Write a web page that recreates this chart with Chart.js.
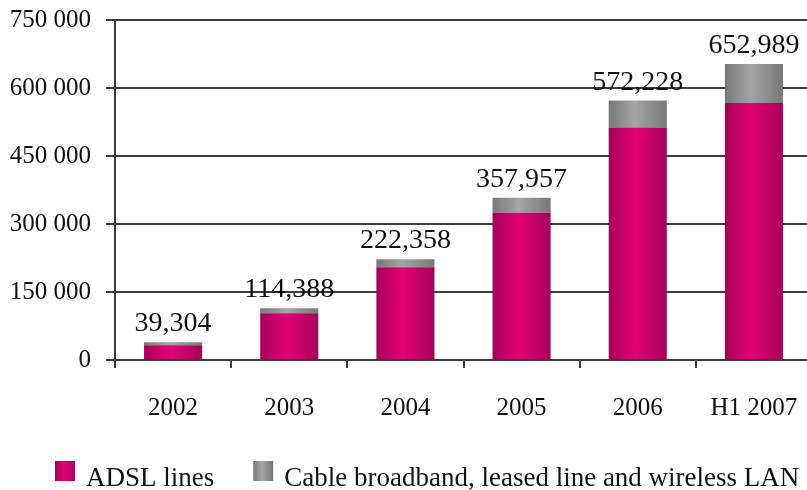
<!DOCTYPE html>
<html>
<head>
<meta charset="utf-8">
<script src="https://cdn.jsdelivr.net/npm/chart.js@4/dist/chart.umd.min.js"></script>
<style>
  html, body { margin: 0; padding: 0; background: #fff; overflow: hidden; }
  #wrap { width: 807px; height: 490px; overflow: hidden; }
</style>
</head>
<body>
<div id="wrap"><canvas id="chart" width="812" height="490"></canvas></div>
<script>
const periods = ["2002", "2003", "2004", "2005", "2006", "H1 2007"]
const adsl = [32704, 103388, 204658, 324957, 512628, 566889]
const cable = [6600, 11000, 17700, 33000, 59600, 86100]
const yTicks = [0, 150000, 300000, 450000, 600000, 750000]

const ink = "#111"
const rule = "#3c3c3c"
const serif = '"Liberation Serif", "Times New Roman", serif'
Chart.defaults.font.family = serif
Chart.defaults.color = ink

const shades = [["#a6005a", "#e20074"], ["#787878", "#a4a4a4"]]

function gradient(ctx, x0, x1, [edge, mid]) {
  const g = ctx.createLinearGradient(x0, 0, x1, 0)
  g.addColorStop(0, edge)
  g.addColorStop(0.45, mid)
  g.addColorStop(1, edge)
  return g
}

// horizontal shading across each bar: dark edges, bright middle
function shade(pair) {
  return (c) => {
    const x = c.chart.scales.x
    if (c.dataIndex === undefined || !x) return pair[1]
    const cx = x.getPixelForValue(c.dataIndex)
    const half = x.width / periods.length * 0.25
    if (!isFinite(cx) || !isFinite(half) || half <= 0) return pair[1]
    return gradient(c.chart.ctx, cx - half, cx + half, pair)
  }
}

const spaced = (v) => String(v).replace(/\B(?=(\d{3})+(?!\d))/g, " ")

const totalLabels = {
  id: "totalLabels",
  afterDatasetsDraw(chart) {
    const { ctx } = chart
    const meta = chart.getDatasetMeta(1)
    ctx.save()
    ctx.font = "28px " + serif
    ctx.fillStyle = ink
    ctx.textAlign = "center"
    ctx.textBaseline = "alphabetic"
    meta.data.forEach((bar, i) => {
      const v = adsl[i] + cable[i]
      ctx.fillText(v.toLocaleString("en-US"), bar.x, bar.y - 11)
    })
    ctx.restore()
  }
}

// single-row legend under the axis, boxes shaded like the bars
const rowLegend = {
  id: "rowLegend",
  afterDraw(chart) {
    const { ctx } = chart
    const box = 20
    let x = 55
    ctx.save()
    ctx.font = "27px " + serif
    ctx.fillStyle = ink
    ctx.textBaseline = "alphabetic"
    chart.data.datasets.forEach((ds, i) => {
      ctx.fillStyle = gradient(ctx, x, x + box, shades[i])
      ctx.fillRect(x, 461, box, box)
      x += box + 11
      ctx.fillStyle = ink
      ctx.fillText(ds.label, x, 486)
      x += ctx.measureText(ds.label).width + 39
    })
    ctx.restore()
  }
}

const chart = new Chart(document.getElementById("chart"), {
  type: "bar",
  data: {
    labels: periods,
    datasets: [
      {
        label: "ADSL lines",
        data: adsl,
        backgroundColor: shade(shades[0]),
        barPercentage: 0.5,
        categoryPercentage: 1
      },
      {
        label: "Cable broadband, leased line and wireless LAN",
        data: cable,
        backgroundColor: shade(shades[1]),
        barPercentage: 0.5,
        categoryPercentage: 1
      }
    ]
  },
  options: {
    responsive: false,
    animation: false,
    layout: { padding: { left: 0, top: 20, right: 0, bottom: 73 } },
    plugins: {
      legend: { display: false },
      tooltip: { enabled: false }
    },
    scales: {
      x: {
        stacked: true,
        grid: { drawOnChartArea: false, tickLength: 8, color: rule, lineWidth: 2, offset: true },
        border: { color: rule, width: 2 },
        ticks: { padding: 25, color: ink, font: { size: 25 } },
        afterFit: (s) => {
          s.height = 57
          s.paddingLeft = 0
          s.paddingRight = 0
        }
      },
      y: {
        stacked: true,
        min: 0,
        max: 750000,
        afterBuildTicks: (s) => { s.ticks = yTicks.map((v) => ({ value: v })) },
        grid: { color: rule, lineWidth: 2, tickLength: 9 },
        border: { color: rule, width: 2 },
        ticks: { padding: 15, color: ink, font: { size: 25 }, callback: (v) => spaced(v) },
        afterFit: (s) => {
          s.width = 115
          s.paddingTop = 0
          s.paddingBottom = 0
        }
      }
    }
  },
  plugins: [totalLabels, rowLegend]
})
// gradients depend on final bar positions
chart.update()
</script>
</body>
</html>
